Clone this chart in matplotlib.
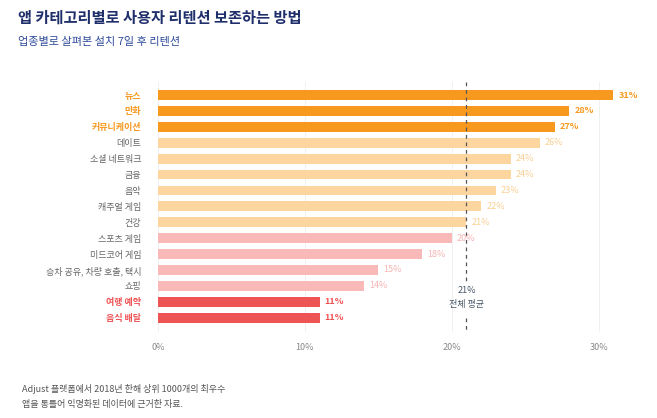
import matplotlib.pyplot as plt

plt.rcParams['font.family'] = ['Noto Sans CJK KR', 'DejaVu Sans']

categories = ['뉴스', '만화', '커뮤니케이션', '데이트', '소셜 네트워크', '금융', '음악', '캐주얼 게임',
              '건강', '스포츠 게임', '미드코어 게임', '승차 공유, 차량 호출, 택시', '쇼핑', '여행 예약', '음식 배달']
values = [31, 28, 27, 26, 24, 24, 23, 22, 21, 20, 18, 15, 14, 11, 11]
groups = [0, 0, 0, 1, 1, 1, 1, 1, 1, 2, 2, 2, 2, 3, 3]
average = 21

bar_colors = ['#F7991F', '#FCD59F', '#F9B9B9', '#EF5455']
value_colors = ['#F7991F', '#FBCF93', '#F7B4B4', '#EF5455']
label_colors = ['#F7991F', '#666666', '#666666', '#EF5455']

fig = plt.figure(figsize=(6.57, 4.18), dpi=100)
ax = fig.add_axes([158/657, 1-332/418, 470/657, 250/418])

y = list(range(len(categories)))
ax.barh(y, values, height=0.62, color=[bar_colors[g] for g in groups])
ax.set_ylim(len(categories) - 0.1, -0.82)
ax.set_xlim(0, 32)

for i, (v, g) in enumerate(zip(values, groups)):
    bold = g in (0, 3)
    ax.text(v + 0.35, i, f'{v}%', va='center', ha='left', fontsize=6.5,
            color=value_colors[g], fontweight='bold' if bold else 'normal')

ax.set_yticks(y)
ax.set_yticklabels(categories, fontsize=6.5)
for lbl, g in zip(ax.get_yticklabels(), groups):
    lbl.set_color(label_colors[g])
    if g in (0, 3):
        lbl.set_fontweight('bold')

ax.set_xticks([0, 10, 20, 30])
ax.set_xticklabels(['0%', '10%', '20%', '30%'], fontsize=6.5, color='#888888')
ax.tick_params(length=0, pad=8)
ax.tick_params(axis='y', pad=12)
ax.grid(axis='x', color='#eeeeee', linewidth=0.6)
ax.set_axisbelow(True)
for s in ax.spines.values():
    s.set_visible(False)

ax.plot([average, average], [-0.82, 11.9], color='#555555', linestyle=(0, (3, 3)), linewidth=0.9)
ax.plot([average, average], [14.0, 14.9], color='#555555', linestyle=(0, (3, 3)), linewidth=0.9)
ax.text(average, 12.3, f'{average}%', ha='center', va='center', fontsize=6.5, color='#445566')
ax.text(average, 13.2, '전체 평균', ha='center', va='center', fontsize=6.5, color='#445566')

fig.text(18/657, 1-18/418, '앱 카테고리별로 사용자 리텐션 보존하는 방법', fontsize=11, fontweight='bold',
         color='#1F2F6B', va='center')
fig.text(18/657, 1-42/418, '업종별로 살펴본 설치 7일 후 리텐션', fontsize=8, color='#2E4A9A', va='center')
fig.text(22/657, 1-389/418, 'Adjust 플랫폼에서 2018년 한해 상위 1000개의 최우수', fontsize=6.5, color='#555555', va='center')
fig.text(22/657, 1-404/418, '앱을 통틀어 익명화된 데이터에 근거한 자료.', fontsize=6.5, color='#555555', va='center')

fig.savefig('out.png', dpi=100)
